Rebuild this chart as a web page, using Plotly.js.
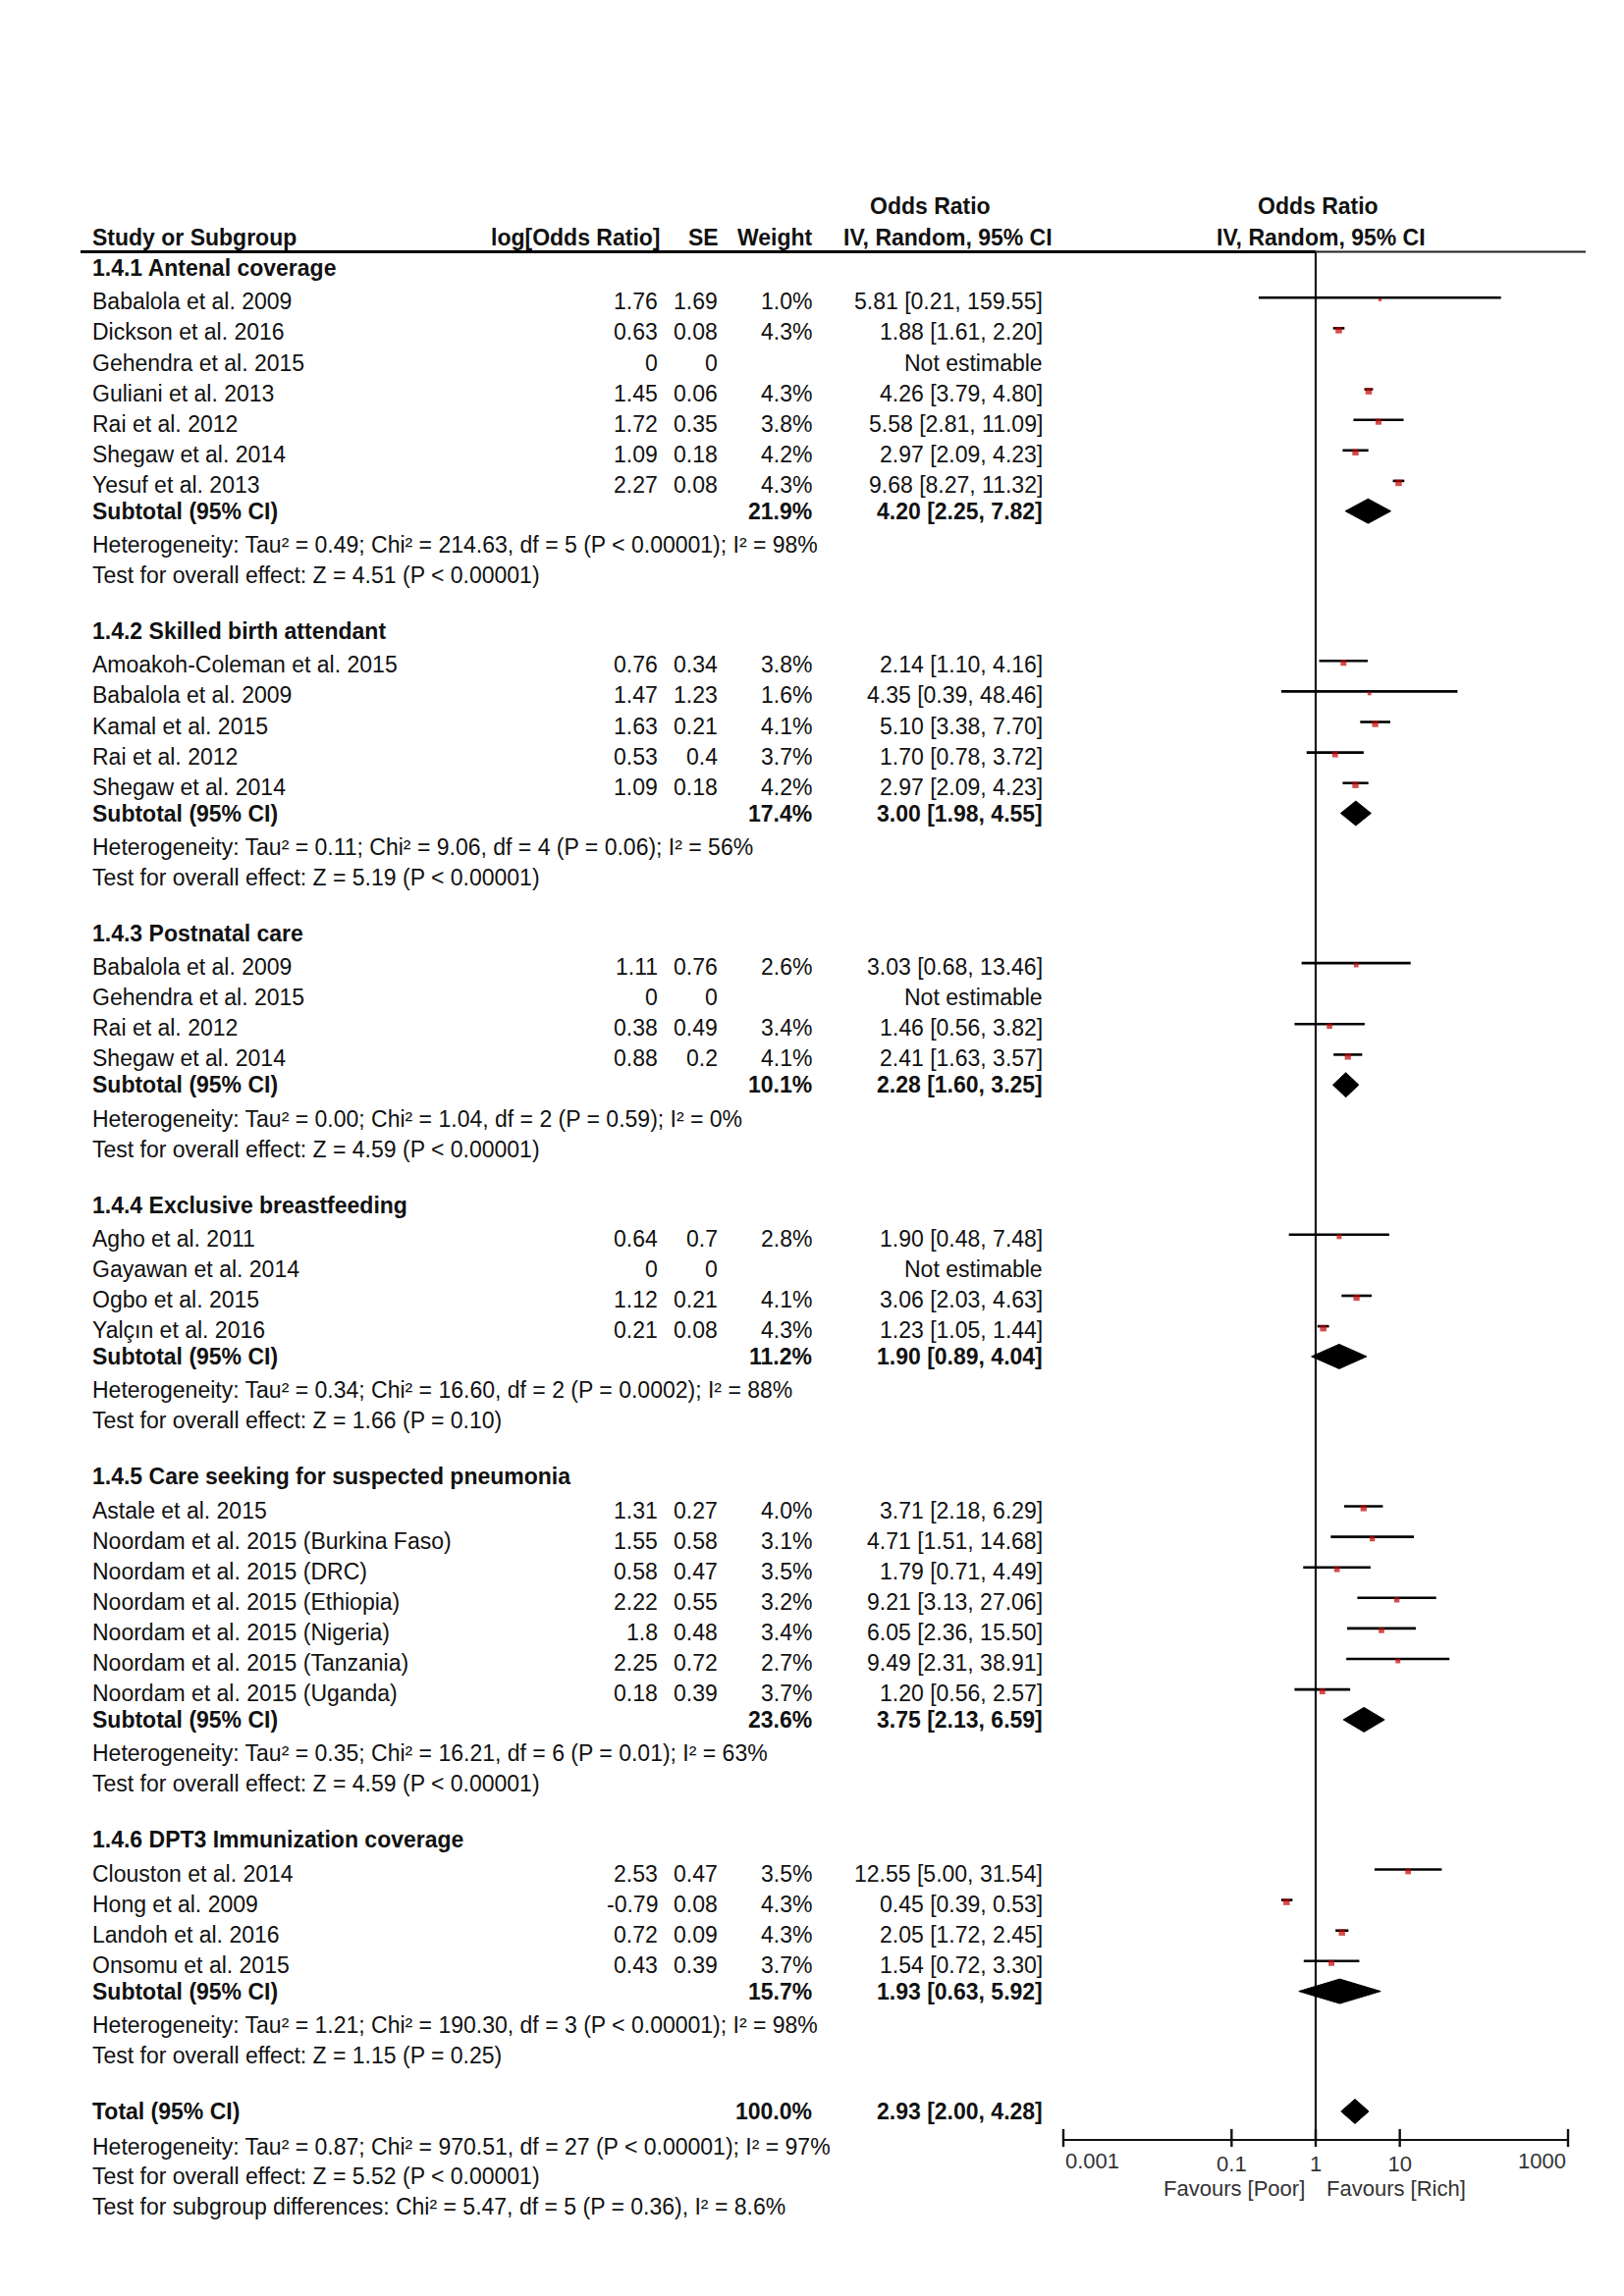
<!DOCTYPE html>
<html><head><meta charset="utf-8">
<script src="https://cdn.plot.ly/plotly-3.0.1.min.js"></script>
<style>html,body{margin:0;padding:0;background:#fff}#chart{width:1654px;height:2339px}</style>
</head><body><div id="chart"></div>
<script>
// ---------------- DATA ----------------
const groupTitles = ['1.4.1 Antenal coverage', '1.4.2 Skilled birth attendant', '1.4.3 Postnatal care',
  '1.4.4 Exclusive breastfeeding', '1.4.5 Care seeking for suspected pneumonia', '1.4.6 DPT3 Immunization coverage'];
const studyGroup = [0,0,0,0,0,0,0, 1,1,1,1,1, 2,2,2,2, 3,3,3,3, 4,4,4,4,4,4,4, 5,5,5,5];
const studyNames = [
  'Babalola et al. 2009','Dickson et al. 2016','Gehendra et al. 2015','Guliani et al. 2013','Rai et al. 2012','Shegaw et al. 2014','Yesuf et al. 2013',
  'Amoakoh-Coleman et al. 2015','Babalola et al. 2009','Kamal et al. 2015','Rai et al. 2012','Shegaw et al. 2014',
  'Babalola et al. 2009','Gehendra et al. 2015','Rai et al. 2012','Shegaw et al. 2014',
  'Agho et al. 2011','Gayawan et al. 2014','Ogbo et al. 2015','Yalçın et al. 2016',
  'Astale et al. 2015','Noordam et al. 2015 (Burkina Faso)','Noordam et al. 2015 (DRC)','Noordam et al. 2015 (Ethiopia)','Noordam et al. 2015 (Nigeria)','Noordam et al. 2015 (Tanzania)','Noordam et al. 2015 (Uganda)',
  'Clouston et al. 2014','Hong et al. 2009','Landoh et al. 2016','Onsomu et al. 2015'];
const logOR = [1.76,0.63,0,1.45,1.72,1.09,2.27, 0.76,1.47,1.63,0.53,1.09, 1.11,0,0.38,0.88, 0.64,0,1.12,0.21, 1.31,1.55,0.58,2.22,1.8,2.25,0.18, 2.53,-0.79,0.72,0.43];
const seVals = [1.69,0.08,0,0.06,0.35,0.18,0.08, 0.34,1.23,0.21,0.4,0.18, 0.76,0,0.49,0.2, 0.7,0,0.21,0.08, 0.27,0.58,0.47,0.55,0.48,0.72,0.39, 0.47,0.08,0.09,0.39];
const weights = [1.0,4.3,null,4.3,3.8,4.2,4.3, 3.8,1.6,4.1,3.7,4.2, 2.6,null,3.4,4.1, 2.8,null,4.1,4.3, 4.0,3.1,3.5,3.2,3.4,2.7,3.7, 3.5,4.3,4.3,3.7];
const oddsRatio = [5.81,1.88,null,4.26,5.58,2.97,9.68, 2.14,4.35,5.10,1.70,2.97, 3.03,null,1.46,2.41, 1.90,null,3.06,1.23, 3.71,4.71,1.79,9.21,6.05,9.49,1.20, 12.55,0.45,2.05,1.54];
const ciLow = [0.21,1.61,null,3.79,2.81,2.09,8.27, 1.10,0.39,3.38,0.78,2.09, 0.68,null,0.56,1.63, 0.48,null,2.03,1.05, 2.18,1.51,0.71,3.13,2.36,2.31,0.56, 5.00,0.39,1.72,0.72];
const ciHigh = [159.55,2.20,null,4.80,11.09,4.23,11.32, 4.16,48.46,7.70,3.72,4.23, 13.46,null,3.82,3.57, 7.48,null,4.63,1.44, 6.29,14.68,4.49,27.06,15.50,38.91,2.57, 31.54,0.53,2.45,3.30];

const subWeight = [21.9,17.4,10.1,11.2,23.6,15.7];
const subOR = [4.20,3.00,2.28,1.90,3.75,1.93];
const subLow = [2.25,1.98,1.60,0.89,2.13,0.63];
const subHigh = [7.82,4.55,3.25,4.04,6.59,5.92];
const hetTexts = [
  'Heterogeneity: Tau² = 0.49; Chi² = 214.63, df = 5 (P &lt; 0.00001); I² = 98%',
  'Heterogeneity: Tau² = 0.11; Chi² = 9.06, df = 4 (P = 0.06); I² = 56%',
  'Heterogeneity: Tau² = 0.00; Chi² = 1.04, df = 2 (P = 0.59); I² = 0%',
  'Heterogeneity: Tau² = 0.34; Chi² = 16.60, df = 2 (P = 0.0002); I² = 88%',
  'Heterogeneity: Tau² = 0.35; Chi² = 16.21, df = 6 (P = 0.01); I² = 63%',
  'Heterogeneity: Tau² = 1.21; Chi² = 190.30, df = 3 (P &lt; 0.00001); I² = 98%'];
const effectTexts = [
  'Test for overall effect: Z = 4.51 (P &lt; 0.00001)',
  'Test for overall effect: Z = 5.19 (P &lt; 0.00001)',
  'Test for overall effect: Z = 4.59 (P &lt; 0.00001)',
  'Test for overall effect: Z = 1.66 (P = 0.10)',
  'Test for overall effect: Z = 4.59 (P &lt; 0.00001)',
  'Test for overall effect: Z = 1.15 (P = 0.25)'];

const totalWeight = 100.0;
const totalOR = 2.93, totalLow = 2.00, totalHigh = 4.28;
const totalTexts = [
  'Heterogeneity: Tau² = 0.87; Chi² = 970.51, df = 27 (P &lt; 0.00001); I² = 97%',
  'Test for overall effect: Z = 5.52 (P &lt; 0.00001)',
  'Test for subgroup differences: Chi² = 5.47, df = 5 (P = 0.36), I² = 8.6%'];

const tickVals = [0.001, 0.1, 1, 10, 1000];
const tickLabels = ['0.001', '0.1', '1', '10', '1000'];

// ---------------- LAYOUT HELPERS ----------------
const W = 1654, H = 2339;
const FONT = 'Liberation Sans, Arial, Helvetica, sans-serif';
const TXT = '#111';
const COL = {name: 92, logOR: 672, se: 733, weight: 829, or: 1064};
const HEAD1_Y = 210, HEAD2_Y = 242, RULE_Y = 256.5;
const FIRST_Y = 273;
const STEP = {hdrToStudy: 34.3, study: 31.1, studyToSub: 26.8, subToHet: 34.3, hetToTest: 31.0, testToNext: 57.0, totalToHet: 35.8, totLine: 30.5};
const AXIS_Y = 2180;
const AX_L = 1083, AX_R = 1597;
const ONE_X = (AX_L + AX_R) / 2;
const MARK_DY = -4, DIAMOND_H = 12.5;

const annotations = [];
function txt(x, y, text, anchor, size, color) {
  annotations.push({xref: 'paper', yref: 'y', x: x / W, y: y, text: text, xanchor: anchor, yanchor: 'middle',
    showarrow: false, font: {family: FONT, size: size || 23, color: color || TXT}});
}
const fmtCI = (o, l, h) => o == null ? 'Not estimable' : `${o.toFixed(2)} [${l.toFixed(2)}, ${h.toFixed(2)}]`;

// headers
txt(947, HEAD1_Y, '<b>Odds Ratio</b>', 'center');
txt(965, HEAD2_Y, '<b>IV, Random, 95% CI</b>', 'center');
txt(ONE_X + 2, HEAD1_Y, '<b>Odds Ratio</b>', 'center');
txt(ONE_X + 5, HEAD2_Y, '<b>IV, Random, 95% CI</b>', 'center');
txt(COL.name, HEAD2_Y, '<b>Study or Subgroup</b>', 'left');
txt(COL.logOR + 2, HEAD2_Y, '<b>log[Odds Ratio]</b>', 'right');
txt(COL.se + 1, HEAD2_Y, '<b>SE</b>', 'right');
txt(COL.weight + 1, HEAD2_Y, '<b>Weight</b>', 'right');

// ---------------- ROWS ----------------
const ciX = [], ciY = [], ptX = [], ptY = [], ptS = [];
const diamonds = [];
let y = FIRST_Y;
groupTitles.forEach((title, g) => {
  if (g > 0) y += STEP.testToNext;
  txt(COL.name, y, '<b>' + title + '</b>', 'left');
  let first = true;
  studyNames.forEach((name, i) => {
    if (studyGroup[i] !== g) return;
    y += first ? STEP.hdrToStudy : STEP.study;
    first = false;
    txt(COL.name, y, name, 'left');
    txt(COL.logOR, y, String(logOR[i]), 'right');
    txt(COL.se, y, String(seVals[i]), 'right');
    if (weights[i] != null) txt(COL.weight, y, weights[i].toFixed(1) + '%', 'right');
    txt(COL.or, y, fmtCI(oddsRatio[i], ciLow[i], ciHigh[i]), 'right');
    if (oddsRatio[i] != null) {
      ciX.push(ciLow[i], ciHigh[i], null);
      ciY.push(y + MARK_DY, y + MARK_DY, null);
      ptX.push(oddsRatio[i]); ptY.push(y + MARK_DY + 2); ptS.push(2.2 + weights[i]);
    }
  });
  y += STEP.studyToSub;
  txt(COL.name, y, '<b>Subtotal (95% CI)</b>', 'left');
  txt(COL.weight, y, '<b>' + subWeight[g].toFixed(1) + '%</b>', 'right');
  txt(COL.or, y, '<b>' + fmtCI(subOR[g], subLow[g], subHigh[g]) + '</b>', 'right');
  diamonds.push({o: subOR[g], l: subLow[g], h: subHigh[g], y: y});
  y += STEP.subToHet;
  txt(COL.name, y, hetTexts[g], 'left');
  y += STEP.hetToTest;
  txt(COL.name, y, effectTexts[g], 'left');
});
y += STEP.testToNext;
txt(COL.name, y, '<b>Total (95% CI)</b>', 'left');
txt(COL.weight, y, '<b>' + totalWeight.toFixed(1) + '%</b>', 'right');
txt(COL.or, y, '<b>' + fmtCI(totalOR, totalLow, totalHigh) + '</b>', 'right');
diamonds.push({o: totalOR, l: totalLow, h: totalHigh, y: y});
y += STEP.totalToHet;
totalTexts.forEach((t, k) => { if (k > 0) y += STEP.totLine; txt(COL.name, y, t, 'left'); });

// axis end labels and favours labels
const TICKLAB_Y = 2201;
txt(0, TICKLAB_Y, tickLabels[0], 'left', 22, '#333');
annotations[annotations.length - 1].xref = 'x';
annotations[annotations.length - 1].x = Math.log10(tickVals[0]);
txt(0, TICKLAB_Y, tickLabels[tickLabels.length - 1], 'right', 22, '#333');
annotations[annotations.length - 1].xref = 'x';
annotations[annotations.length - 1].x = Math.log10(tickVals[tickVals.length - 1]);
annotations.push({xref: 'x', yref: 'y', x: 0, y: 2229, xshift: -9, text: 'Favours [Poor]', xanchor: 'right', yanchor: 'middle', showarrow: false, font: {family: FONT, size: 22, color: '#333'}});
annotations.push({xref: 'x', yref: 'y', x: 0, y: 2229, xshift: 9, text: 'Favours [Rich]', xanchor: 'left', yanchor: 'middle', showarrow: false, font: {family: FONT, size: 22, color: '#333'}});

// ---------------- TRACES ----------------
const traces = [];
traces.push({x: [1, 1], y: [RULE_Y, AXIS_Y], mode: 'lines', line: {color: '#1a1a1a', width: 2.2}, hoverinfo: 'skip', showlegend: false});
traces.push({x: ciX, y: ciY, mode: 'lines', line: {color: '#000', width: 2.6}, connectgaps: false, hoverinfo: 'skip', showlegend: false});
traces.push({x: ptX, y: ptY, mode: 'markers', marker: {symbol: 'square', size: ptS, color: '#c40000', line: {width: 0}}, hoverinfo: 'skip', showlegend: false, cliponaxis: false});
diamonds.forEach(d => {
  traces.push({x: [d.l, d.o, d.h, d.o, d.l], y: [d.y, d.y - DIAMOND_H, d.y, d.y + DIAMOND_H, d.y], mode: 'lines', fill: 'toself',
    fillcolor: '#000', line: {color: '#000', width: 1}, hoverinfo: 'skip', showlegend: false});
});
traces.push({x: tickVals, y: tickVals.map(() => AXIS_Y - 2), mode: 'markers', cliponaxis: false,
  marker: {symbol: 'line-ns', size: 13, line: {color: '#111', width: 2.4}}, hoverinfo: 'skip', showlegend: false});

const layout = {
  width: W, height: H, margin: {l: 0, r: 0, t: 0, b: 0, pad: 0},
  paper_bgcolor: '#fff', plot_bgcolor: 'rgba(0,0,0,0)', showlegend: false,
  font: {family: FONT, color: TXT},
  xaxis: {type: 'log', range: [-3, 3], domain: [AX_L / W, AX_R / W], anchor: 'free', position: (H - AXIS_Y) / H,
    showline: true, linecolor: '#111', linewidth: 2.4, showgrid: false, zeroline: false,
    tickmode: 'array', tickvals: tickVals, ticktext: tickLabels.map((t, i) => (i === 0 || i === tickLabels.length - 1) ? '' : t),
    ticks: 'outside', ticklen: 4, tickcolor: 'rgba(0,0,0,0)', tickfont: {family: FONT, size: 22, color: '#333'}, fixedrange: true},
  yaxis: {range: [H, 0], domain: [0, 1], visible: false, fixedrange: true},
  shapes: [
    {type: 'line', xref: 'paper', yref: 'y', x0: 82 / W, x1: ONE_X / W, y0: RULE_Y, y1: RULE_Y, line: {color: '#000', width: 3}},
    {type: 'line', xref: 'paper', yref: 'y', x0: ONE_X / W, x1: 1615 / W, y0: RULE_Y, y1: RULE_Y, line: {color: '#222', width: 2}}
  ],
  annotations: annotations
};
Plotly.newPlot('chart', traces, layout, {staticPlot: true, displayModeBar: false});
</script>
</body></html>
